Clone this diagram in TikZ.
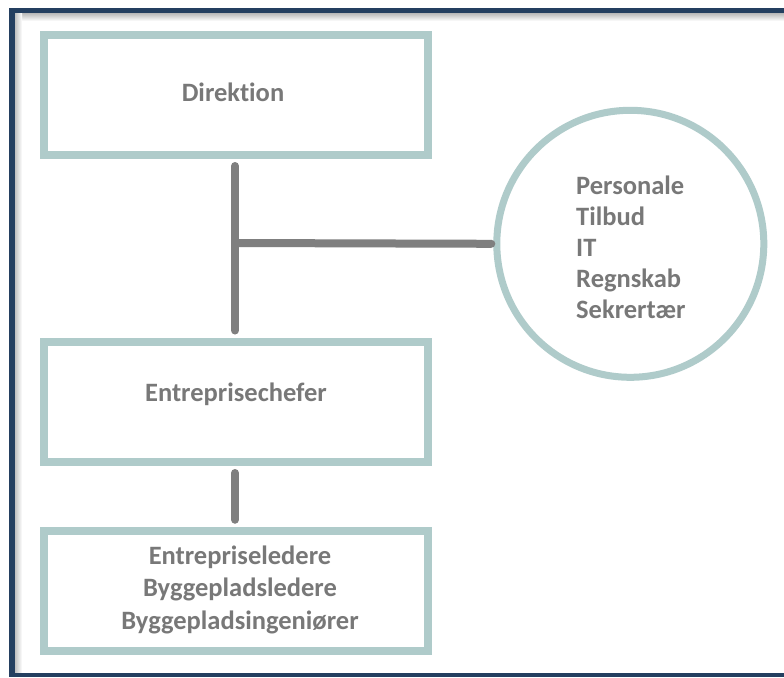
\documentclass[tikz,border=0pt]{standalone}
\usepackage{fontspec}
\setmainfont{Carlito}[Ligatures={NoCommon}, RawFeature={-liga}]
\definecolor{frameblue}{HTML}{243F60}
\definecolor{tealbox}{HTML}{AFCBCA}
\definecolor{linegray}{HTML}{7F7F7F}
\definecolor{textgray}{HTML}{787878}
\begin{document}
\begin{tikzpicture}[x=1pt,y=-1pt,
  orgbox/.style={draw=tealbox, line width=8pt, minimum width=383.5pt, minimum height=119.5pt, inner sep=0pt},
  orgcircle/.style={draw=tealbox, line width=7pt, circle, minimum size=267pt, inner sep=0pt},
  lbl/.style={text=textgray, font=\bfseries\fontsize{26.5}{32.5}\selectfont, inner sep=0pt},
  conn/.style={draw=linegray, line width=8pt, line cap=round}]
\useasboundingbox (0,0) rectangle (784,677);
\fill[white] (0,0) rectangle (784,677);
% frame
\shade[top color=black!28, bottom color=white] (14,13) rectangle (784,21);
\shade[left color=black!28, right color=white] (14,13) rectangle (22,673);
\fill[frameblue] (9,8) rectangle (784,13.5);
\fill[frameblue] (9,8) rectangle (14.5,677);
\fill[frameblue] (9,673) rectangle (784,677);
% boxes
\node[orgbox] (dir) at (235.75,94.75) {};
\node[orgbox] (chef) at (235.75,401.75) {};
\node[orgbox] (led) at (235.75,591) {};
\node[orgcircle] (stab) at (630.3,243.8) {};
% labels
\node[lbl] (tdir) at (233,92) {Direktion};
\node[lbl] (tchef) at (236,394) {Entreprisechefer};
\node[lbl, align=center] (tled) at (240,589.5) {Entrepriseledere\\Byggepladsledere\\Byggepladsingeniører};
\node[lbl, align=left, anchor=west, font=\bfseries\fontsize{26.5}{31}\selectfont] (tstab) at (576,247) {Personale\\Tilbud\\IT\\Regnskab\\Sekrertær};
% connectors
\coordinate (j) at (235,243);
\draw[conn, shorten <=7.5pt, shorten >=7.5pt] (dir.south -| j) -- (chef.north -| j);
\draw[conn, shorten >=2pt] (j) -- (stab.west);
\draw[conn, shorten <=7.5pt, shorten >=7.5pt] (chef.south -| j) -- (led.north -| j);
\end{tikzpicture}
\end{document}
